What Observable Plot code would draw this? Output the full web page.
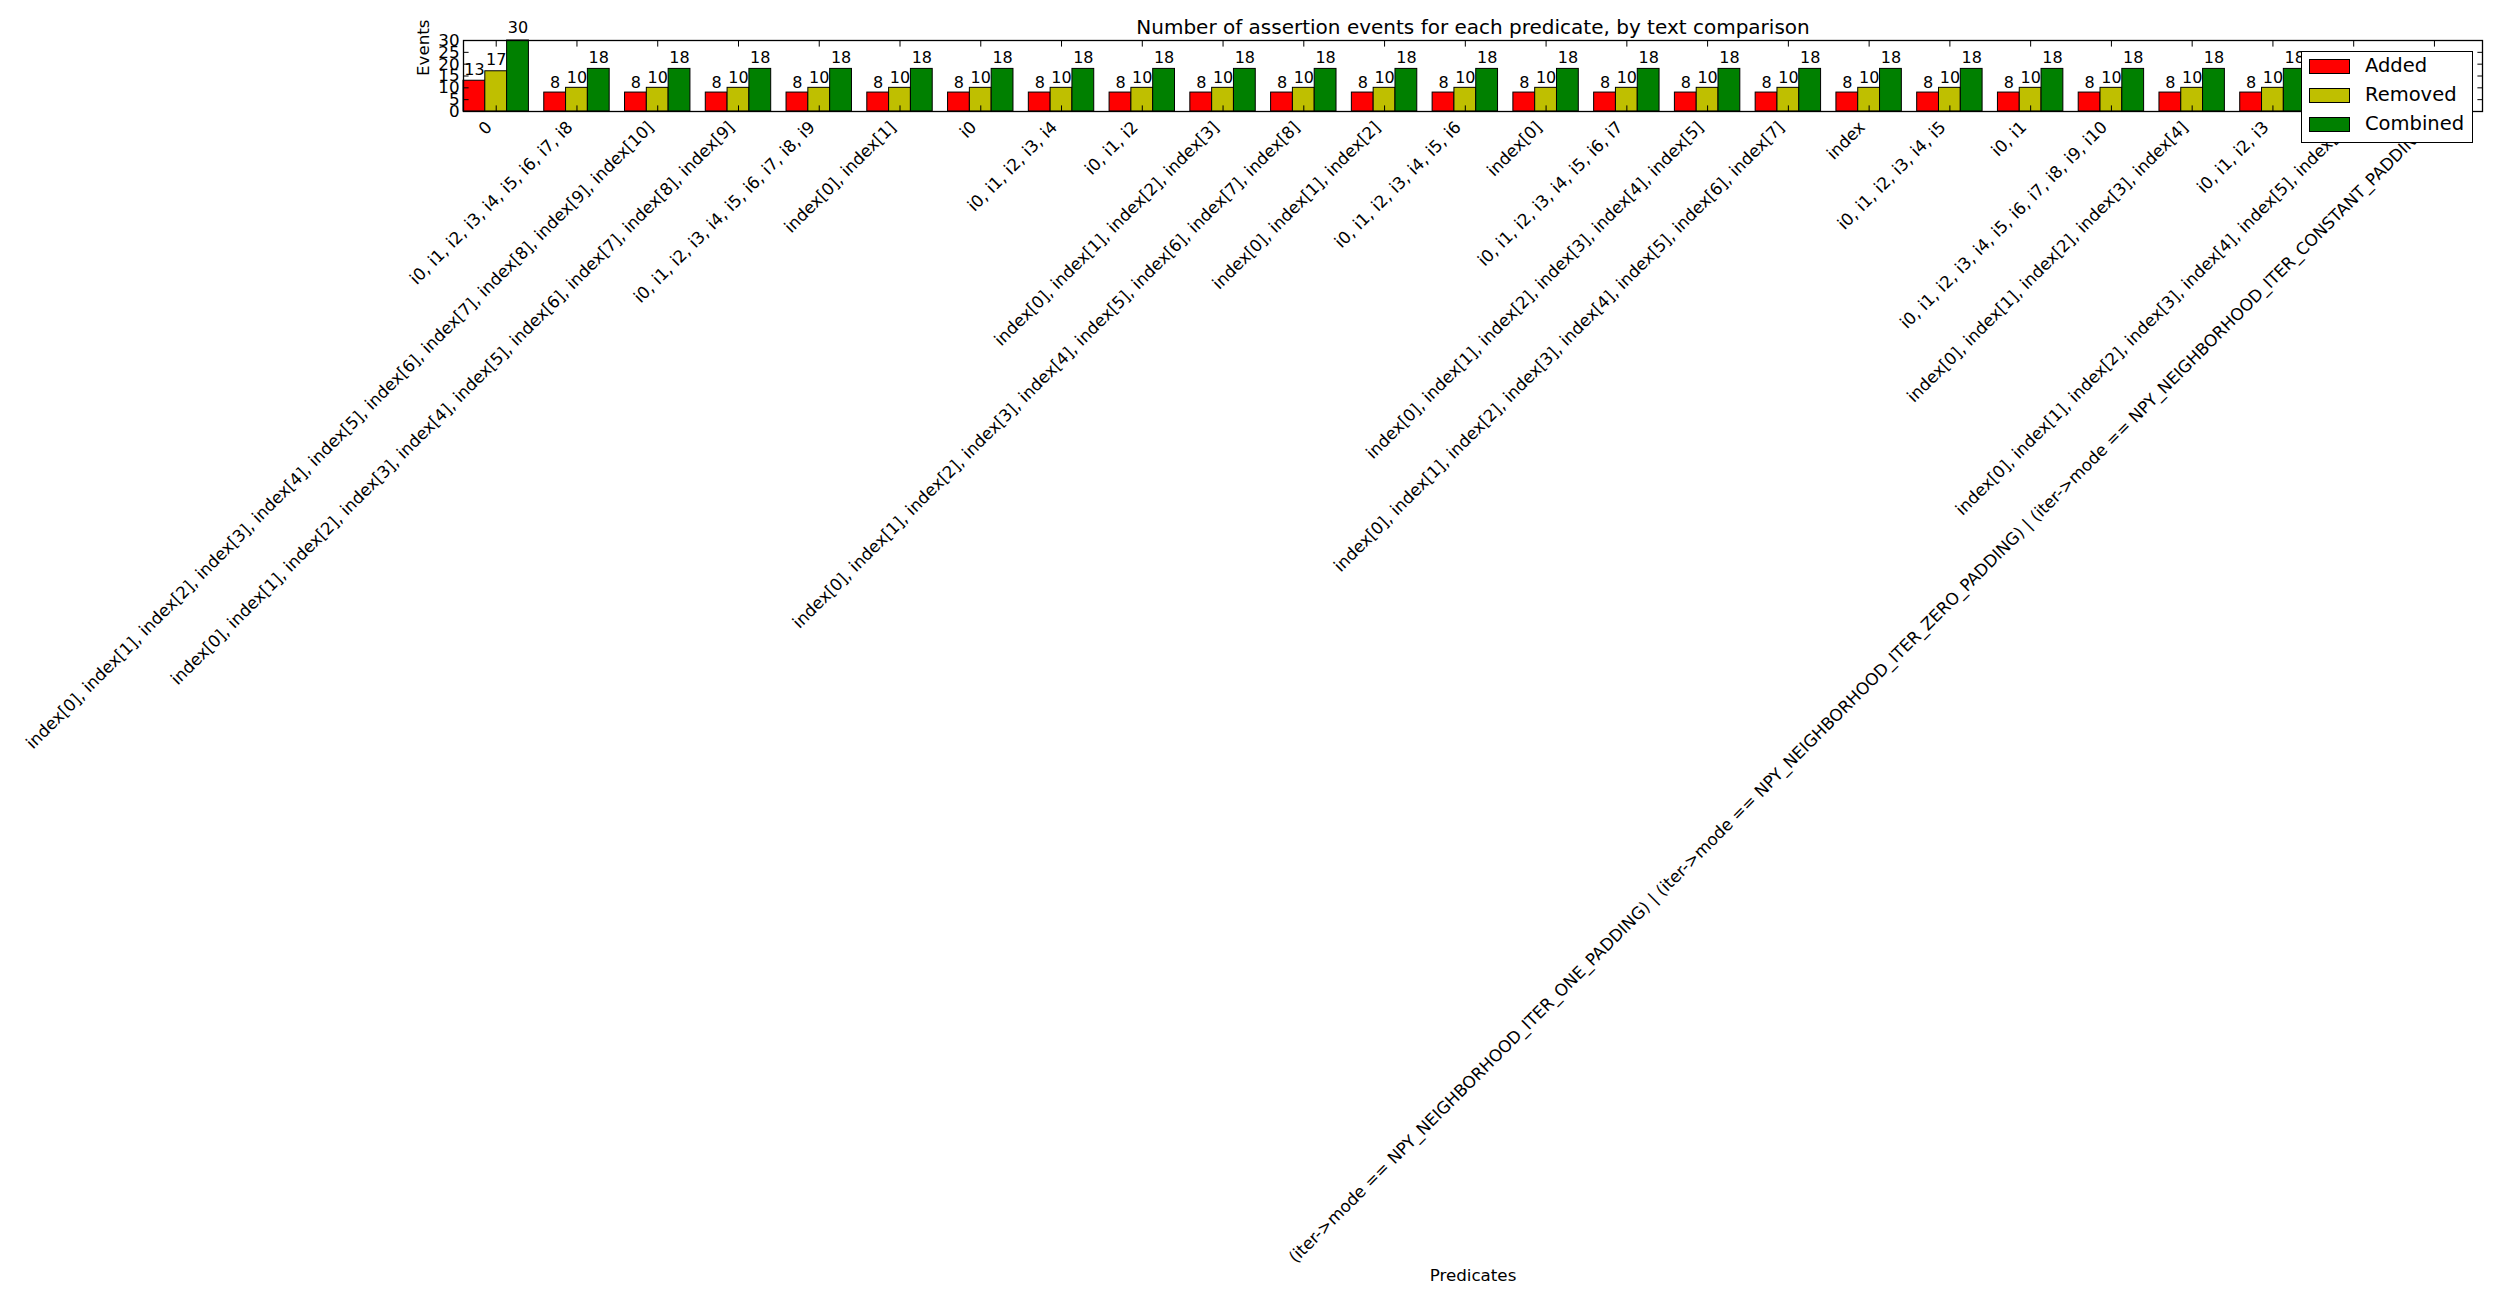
<!DOCTYPE html>
<html>
<head>
<meta charset="utf-8">
<script src="https://cdn.jsdelivr.net/npm/d3@7"></script>
<script src="https://cdn.jsdelivr.net/npm/@observablehq/plot@0.6"></script>
<style>
  html, body { margin: 0; padding: 0; background: #fff; }
  #wrap { position: relative; width: 2500px; height: 1300px; font-family: "DejaVu Sans", sans-serif; }
  #legend { position: absolute; background: #fff; border: 1px solid #000; box-sizing: border-box; }
  .sw { position: absolute; border: 1px solid #000; box-sizing: border-box; }
  .lt { position: absolute; font-size: 19.5px; line-height: 1; color: #000; white-space: nowrap; }
</style>
</head>
<body>
<div id="wrap"></div>
<script>
// ---- data ----
const categories = [
  "0",
  "i0, i1, i2, i3, i4, i5, i6, i7, i8",
  "index[0], index[1], index[2], index[3], index[4], index[5], index[6], index[7], index[8], index[9], index[10]",
  "index[0], index[1], index[2], index[3], index[4], index[5], index[6], index[7], index[8], index[9]",
  "i0, i1, i2, i3, i4, i5, i6, i7, i8, i9",
  "index[0], index[1]",
  "i0",
  "i0, i1, i2, i3, i4",
  "i0, i1, i2",
  "index[0], index[1], index[2], index[3]",
  "index[0], index[1], index[2], index[3], index[4], index[5], index[6], index[7], index[8]",
  "index[0], index[1], index[2]",
  "i0, i1, i2, i3, i4, i5, i6",
  "index[0]",
  "i0, i1, i2, i3, i4, i5, i6, i7",
  "index[0], index[1], index[2], index[3], index[4], index[5]",
  "index[0], index[1], index[2], index[3], index[4], index[5], index[6], index[7]",
  "index",
  "i0, i1, i2, i3, i4, i5",
  "i0, i1",
  "i0, i1, i2, i3, i4, i5, i6, i7, i8, i9, i10",
  "index[0], index[1], index[2], index[3], index[4]",
  "i0, i1, i2, i3",
  "index[0], index[1], index[2], index[3], index[4], index[5], index[6]",
  "(iter->mode == NPY_NEIGHBORHOOD_ITER_ONE_PADDING) | (iter->mode == NPY_NEIGHBORHOOD_ITER_ZERO_PADDING) | (iter->mode == NPY_NEIGHBORHOOD_ITER_CONSTANT_PADDING)"
];
const added    = [13, 8, 8, 8, 8, 8, 8, 8, 8, 8, 8, 8, 8, 8, 8, 8, 8, 8, 8, 8, 8, 8, 8, 8, 8];
const removed  = [17, 10, 10, 10, 10, 10, 10, 10, 10, 10, 10, 10, 10, 10, 10, 10, 10, 10, 10, 10, 10, 10, 10, 10, 10];
const combined = [30, 18, 18, 18, 18, 18, 18, 18, 18, 18, 18, 18, 18, 18, 18, 18, 18, 18, 18, 18, 18, 18, 18, 18, 18];
const seriesNames = ["Added", "Removed", "Combined"];
const seriesColors = ["#ff0000", "#bfbf00", "#008000"];
const yTicks = [0, 5, 10, 15, 20, 25, 30];
const titleText = "Number of assertion events for each predicate, by text comparison";
const xLabel = "Predicates";
const yLabel = "Events";

// ---- layout ----
const barWidth = 0.27;
const seriesValues = [added, removed, combined];
const rows = [];
categories.forEach((c, i) => seriesNames.forEach((s, k) => rows.push({i, k, series: s, value: seriesValues[k][i]})));
const tickPos = categories.map((c, i) => i + 1.5 * barWidth);
const TL = 5.6;

const chart = Plot.plot({
  width: 2500,
  height: 1300,
  marginLeft: 463,
  marginRight: 18,
  marginTop: 40,
  marginBottom: 1189,
  style: {fontFamily: "DejaVu Sans, sans-serif", fontSize: "16.7px", color: "#000", background: "#fff", overflow: "visible"},
  x: {type: "linear", domain: [0, 25]},
  y: {type: "linear", domain: [0, 30]},
  color: {domain: seriesNames, range: seriesColors},
  marks: [
    Plot.rectY(rows, {
      x1: d => d.i + d.k * barWidth,
      x2: d => d.i + (d.k + 1) * barWidth,
      y1: 0, y2: "value",
      fill: "series", stroke: "#000", strokeWidth: 1
    }),
    Plot.frame({stroke: "#000", strokeWidth: 1.3}),
    Plot.axisY(yTicks, {anchor: "left", tickSize: 0, tickPadding: 4, fontSize: 16.7, label: null}),
    Plot.axisY(yTicks, {anchor: "left", tickSize: TL, dx: TL, tickFormat: () => "", label: null}),
    Plot.axisY(yTicks, {anchor: "right", tickSize: TL, dx: -TL, tickFormat: () => "", label: null}),
    Plot.axisX(tickPos, {anchor: "top", tickSize: TL, dy: TL, tickFormat: () => "", label: null}),
    Plot.axisX(tickPos, {anchor: "bottom", tickSize: TL, dy: -TL, tickFormat: () => "", label: null}),
    Plot.text(rows, {
      x: d => d.i + (d.k + 0.5) * barWidth,
      y: d => d.value * 1.05,
      text: d => String(d.value),
      lineAnchor: "bottom", dy: -4, fontSize: 16, fill: "#000"
    }),
    Plot.text(categories, {
      x: (d, i) => tickPos[i],
      frameAnchor: "bottom",
      text: d => d,
      rotate: -45, textAnchor: "end", lineAnchor: "middle",
      dx: -7, dy: 13, fontSize: 16.7, fill: "#000"
    }),
    Plot.text([titleText], {frameAnchor: "top", lineAnchor: "bottom", dy: -7, fontSize: 20, fill: "#000"}),
    Plot.text([xLabel], {frameAnchor: "bottom", lineAnchor: "bottom", dy: 1169, fontSize: 16.7, fill: "#000"}),
    Plot.text([yLabel], {frameAnchor: "left", rotate: -90, dx: -40, fontSize: 16.7, fill: "#000"})
  ]
});

const wrap = document.getElementById("wrap");
wrap.appendChild(chart);

// legend (overlapping the axes, as in the reference)
const legend = document.createElement("div");
legend.id = "legend";
Object.assign(legend.style, {left: "2301px", top: "51px", width: "172px", height: "92px"});
seriesNames.forEach((s, k) => {
  const sw = document.createElement("div");
  sw.className = "sw";
  Object.assign(sw.style, {left: "7px", top: (7 + k * 29) + "px", width: "41px", height: "15px", background: seriesColors[k]});
  legend.appendChild(sw);
  const t = document.createElement("div");
  t.className = "lt";
  t.textContent = s;
  Object.assign(t.style, {left: "63px", top: (4 + k * 29) + "px"});
  legend.appendChild(t);
});
wrap.appendChild(legend);
</script>
</body>
</html>
